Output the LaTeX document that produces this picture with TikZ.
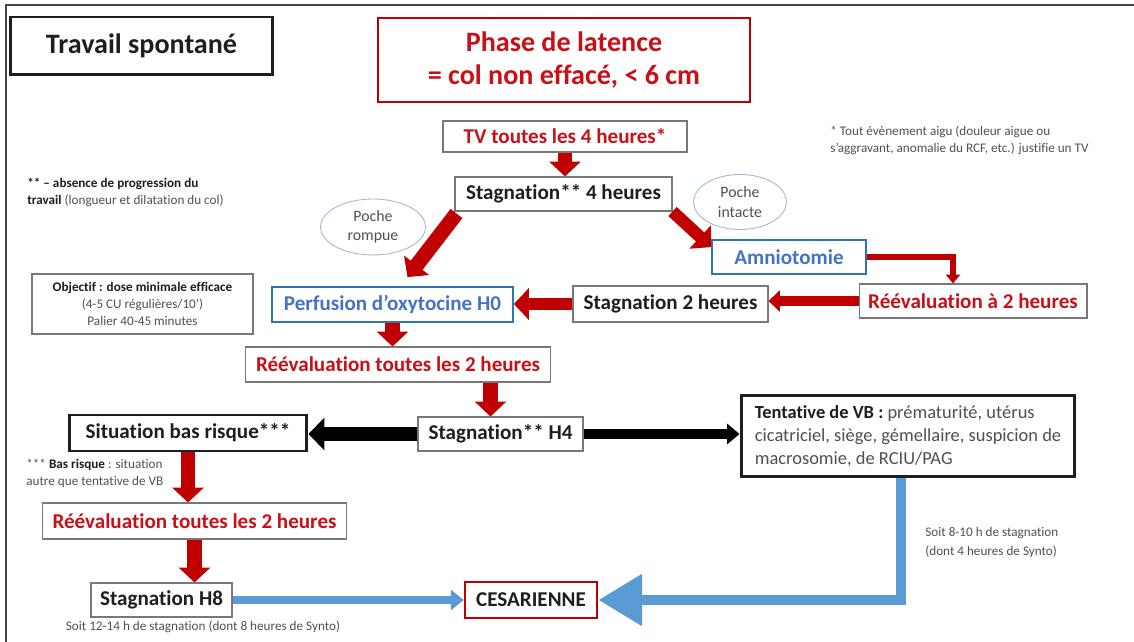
\documentclass[tikz,border=0pt]{standalone}
\usepackage{fontspec}
\setmainfont{Carlito}[Ligatures=NoCommon]
\usetikzlibrary{arrows.meta,shapes.geometric,calc}
\definecolor{arrred}{RGB}{192,0,0}
\definecolor{txtred}{RGB}{200,16,24}
\definecolor{boxblue}{RGB}{46,117,182}
\definecolor{txtblue}{RGB}{68,114,196}
\definecolor{arrblue}{RGB}{91,155,213}
\definecolor{boxgrey}{RGB}{120,120,120}
\definecolor{notegrey}{RGB}{80,80,80}
\definecolor{ovalblue}{RGB}{160,185,215}
\definecolor{ink}{RGB}{30,30,30}
\definecolor{framegrey}{RGB}{70,70,70}
\begin{document}
\begin{tikzpicture}[x=0.02cm,y=-0.02cm,
	box/.style={draw=boxgrey,line width=0.6pt,fill=white,inner sep=0pt,text=ink,font=\fontsize{12}{14}\selectfont\bfseries},
	bigbox/.style={box,draw=ink,line width=1.7pt},
	redbox/.style={box,draw=arrred,line width=1.4pt},
	bluebox/.style={box,draw=boxblue,line width=1pt,text=txtblue},
	oval/.style={ellipse,draw=ovalblue,line width=0.5pt,inner sep=0pt,align=center,text=notegrey,font=\fontsize{9}{11}\selectfont},
	note/.style={inner sep=0pt,align=left,text=notegrey,font=\fontsize{7.5}{9.6}\selectfont},
	redarr/.style={draw=arrred,line width=8.5pt,-{Triangle[width=17.6pt,length=8.5pt]}},
	redmid/.style={draw=arrred,line width=5.5pt,-{Triangle[width=12pt,length=6.5pt]}},
	redthin/.style={draw=arrred,line width=3.6pt,-{Triangle[width=8pt,length=5pt]}},
	blackarr/.style={draw=black,line width=8pt,-{Triangle[width=18pt,length=9pt]}},
	blackthin/.style={draw=black,line width=5.7pt,-{Triangle[width=11.3pt,length=7pt]}},
	bluearr/.style={draw=arrblue,line width=5pt,-{Triangle[width=11.3pt,length=7.4pt]}},
	bluebig/.style={draw=arrblue,line width=6.2pt,-{Triangle[width=28pt,length=25pt]}}]
	\useasboundingbox (0,0) rectangle (1134,642);
	\draw[framegrey,line width=1.2pt] (6,642)--(6,5)--(1134,5);
	%%%
	\path (141.5,46) node[bigbox,minimum width=52.6mm,minimum height=11.6mm,font=\fontsize{16}{19}\selectfont\bfseries] (spont) {Travail spontané};
	\path (564,60) node[redbox,line width=1.1pt,minimum width=74.4mm,minimum height=16.8mm,align=center,text=txtred,font=\fontsize{16}{18.7}\selectfont\bfseries] (latence) {Phase de latence\\= col non effacé, < 6 cm};
	\path (565,136.5) node[box,text=txtred,minimum width=48.8mm,minimum height=6.2mm] (tv) {TV toutes les 4 heures*};
	\path (563.5,194) node[box,minimum width=43.4mm,minimum height=6.8mm] (stag4) {Stagnation** 4 heures};
	\path (373,227) node[oval,minimum width=21mm,minimum height=11.2mm] (rompue) {Poche\\rompue};
	\path (740,202) node[oval,minimum width=18.6mm,minimum height=11mm] (intacte) {Poche\\intacte};
	%%%
	\path (789,257) node[bluebox,minimum width=30.8mm,minimum height=6.8mm] (amnio) {Amniotomie};
	\path (973,301) node[box,text=txtred,minimum width=45.6mm,minimum height=6.8mm] (reeval2) {Réévaluation à 2 heures};
	\path (670.5,304) node[box,minimum width=39mm,minimum height=7.2mm] (stag2) {Stagnation 2 heures};
	\path (392.5,304.5) node[bluebox,minimum width=48.2mm,minimum height=7mm] (perf) {Perfusion d’oxytocine H0};
	\path (142.5,304) node[box,font=\fontsize{7.5}{9.8}\selectfont,text=notegrey,align=center,minimum width=44.2mm,minimum height=12mm] (objectif) {\textcolor{ink}{\bfseries Objectif : dose minimale efficace}\\(4-5 CU régulières/10’)\\Palier 40-45 minutes};
	\path (398,364.5) node[box,text=txtred,minimum width=61.2mm,minimum height=7mm] (reevalA) {Réévaluation toutes les 2 heures};
	%%%
	\path (500.5,434) node[box,minimum width=33mm,minimum height=6.8mm] (h4) {Stagnation** H4};
	\path (188,433) node[bigbox,minimum width=47.6mm,minimum height=7.2mm] (bas) {Situation bas risque***};
	\path (908,436) node[bigbox,font=\fontsize{10.5}{13.2}\selectfont,text=notegrey,align=left,minimum width=66.8mm,minimum height=16.4mm] (vb) {\textcolor{ink}{\bfseries Tentative de VB :} prématurité, utérus\\cicatriciel, siège, gémellaire, suspicion de\\macrosomie, de RCIU/PAG};
	\path (194.5,521) node[box,text=txtred,minimum width=61mm,minimum height=7.2mm] (reevalB) {Réévaluation toutes les 2 heures};
	\path (161.5,600) node[box,minimum width=28.2mm,minimum height=6.8mm] (h8) {Stagnation H8};
	\path (531,600) node[redbox,minimum width=26.4mm,minimum height=7.2mm] (cesar) {CESARIENNE};
	%%% notes
	\path (27,178) node[note,anchor=north west] (notetwo) {\textcolor{ink}{\bfseries ** – absence de progression du}\\\textcolor{ink}{\bfseries travail} (longueur et dilatation du col)};
	\path (830,126) node[note,anchor=north west] (noteone) {* Tout évènement aigu (douleur aigue ou\\s’aggravant, anomalie du RCF, etc.) justifie un TV};
	\path (26,459) node[note,anchor=north west] (notethree) {*** \textcolor{ink}{\bfseries Bas risque} : situation\\autre que tentative de VB};
	\path (203,627) node[note] (noteheight) {Soit 12-14 h de stagnation (dont 8 heures de Synto)};
	\path (925,527) node[note,font=\fontsize{7.5}{10.6}\selectfont,anchor=north west] (notevb) {Soit 8-10 h de stagnation\\(dont 4 heures de Synto)};
	%%% arrows
	\draw[redarr] (tv.south)--(tv.south |- stag4.north);
	\draw[redarr] ($(stag4.south west)+(2,2)$)--($(perf.north)+(15,-9)$);
	\draw[redarr,line width=7pt] (stag4.south east)--($(amnio.north west)+(0,8)$);
	\draw[redthin] (amnio.east)-|($(reeval2.north)+(-20,0)$);
	\draw[redmid] (reeval2.west)--(reeval2.west -| stag2.east);
	\draw[redarr,line width=7pt] (stag2.west)--(stag2.west -| perf.east);
	\draw[redarr] (perf.south)--(perf.south |- reevalA.north);
	\coordinate (hin) at ($(h4.north)+(-10,0)$);
	\draw[redarr] (hin |- reevalA.south)--(hin);
	\draw[blackarr] (h4.west)--(h4.west -| bas.east);
	\draw[blackthin] (h4.east)--(h4.east -| vb.west);
	\draw[redarr] (bas.south)--(bas.south |- reevalB.north);
	\draw[redarr] (reevalB.south)--(reevalB.south |- h8.north);
	\draw[bluearr] (h8.east)--(cesar.west);
	\coordinate (vbout) at ($(vb.south)+(-7,0)$);
	\draw[bluebig] (vbout) |- (cesar.east);
\end{tikzpicture}
\end{document}
